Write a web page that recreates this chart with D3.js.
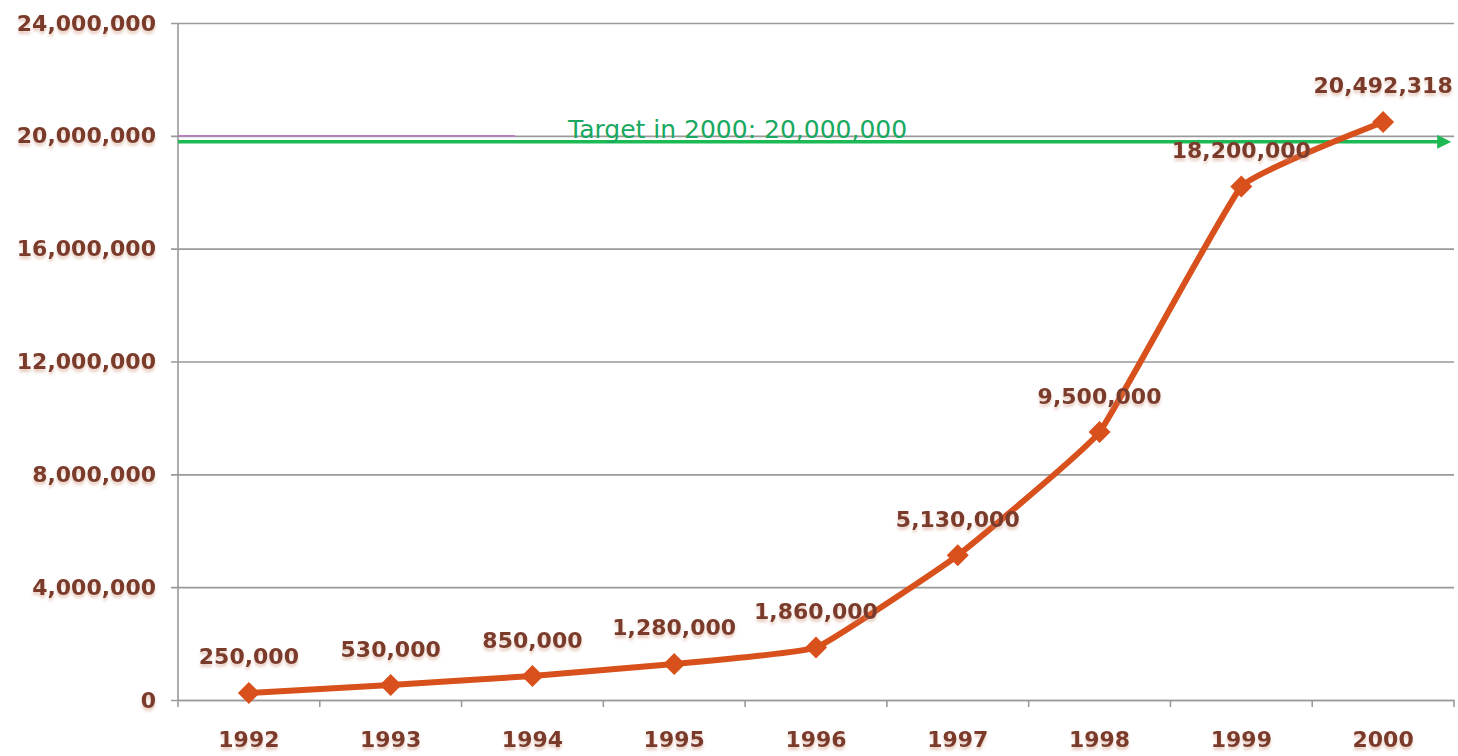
<!DOCTYPE html>
<html>
<head>
<meta charset="utf-8">
<script src="https://cdn.jsdelivr.net/npm/d3@7"></script>
<style>
  body { margin: 0; background: #fff; }
  svg { display: block; }
  text { font-family: "DejaVu Sans", sans-serif; }
</style>
</head>
<body>
<div id="chart"></div>
<script>
const years = ["1992", "1993", "1994", "1995", "1996", "1997", "1998", "1999", "2000"];
const users = [250000, 530000, 850000, 1280000, 1860000, 5130000, 9500000, 18200000, 20492318];
const yTicks = [0, 4000000, 8000000, 12000000, 16000000, 20000000, 24000000];
const target = 20000000;
const targetLabel = "Target in 2000: 20,000,000";

const width = 1458, height = 756;
const margin = {top: 23, right: 4, bottom: 56, left: 178};
const brown = "#7a3a2c";
const orange = "#d8501c";
const green = "#1db954";

const svg = d3.select("#chart").append("svg")
    .attr("width", width)
    .attr("height", height);

// soft reflection under the labels
const defs = svg.append("defs");
const f = defs.append("filter").attr("id", "shadow")
    .attr("x", "-10%").attr("y", "-20%").attr("width", "120%").attr("height", "160%");
f.append("feDropShadow")
    .attr("dx", 0).attr("dy", 3).attr("stdDeviation", 1.5)
    .attr("flood-color", "#c98a70").attr("flood-opacity", 0.45);

defs.append("marker")
    .attr("id", "arrow")
    .attr("viewBox", "0 0 10 10")
    .attr("refX", 2).attr("refY", 5)
    .attr("markerWidth", 4).attr("markerHeight", 4)
    .attr("orient", "auto")
  .append("path")
    .attr("d", "M0,0 L10,5 L0,10 z")
    .attr("fill", green);

const x = d3.scaleBand()
    .domain(years)
    .range([margin.left, width - margin.right]);

const y = d3.scaleLinear()
    .domain([0, 24000000])
    .range([height - margin.bottom, margin.top]);

const fmt = d3.format(",");

// y grid + labels
const yAxis = svg.append("g")
    .attr("transform", `translate(${margin.left},0)`)
    .call(d3.axisLeft(y)
        .tickValues(yTicks)
        .tickSize(-(width - margin.right - margin.left))
        .tickSizeOuter(0)
        .tickPadding(22)
        .tickFormat(fmt));
yAxis.select(".domain").remove();
yAxis.selectAll(".tick line")
    .attr("x1", -7)
    .attr("stroke", "#9a9a9a")
    .attr("stroke-width", 1.6);
yAxis.selectAll(".tick text")
    .attr("font-size", 22)
    .attr("font-weight", "bold")
    .attr("fill", brown)
    .attr("filter", "url(#shadow)");

// left axis line
svg.append("line")
    .attr("x1", margin.left).attr("x2", margin.left)
    .attr("y1", y(24000000)).attr("y2", y(0))
    .attr("stroke", "#9a9a9a").attr("stroke-width", 1.6);

// x axis
const xAxis = svg.append("g")
    .attr("transform", `translate(0,${y(0)})`)
    .call(d3.axisBottom(x).tickSize(0).tickPadding(31));
xAxis.select(".domain")
    .attr("stroke", "#9a9a9a").attr("stroke-width", 1.6);
xAxis.selectAll(".tick text")
    .attr("font-size", 22)
    .attr("font-weight", "bold")
    .attr("fill", brown)
    .attr("filter", "url(#shadow)");
// boundary ticks between categories
const edges = years.map(d => x(d)).concat([x(years[years.length - 1]) + x.bandwidth()]);
svg.append("g").selectAll("line")
    .data(edges)
    .join("line")
    .attr("x1", d => d).attr("x2", d => d)
    .attr("y1", y(0)).attr("y2", y(0) + 7)
    .attr("stroke", "#9a9a9a").attr("stroke-width", 1.6);

// target line: thin purple stub on the gridline + green arrow
svg.append("line")
    .attr("x1", margin.left).attr("x2", 515)
    .attr("y1", y(target)).attr("y2", y(target))
    .attr("stroke", "#b77cc0").attr("stroke-width", 1.6);
svg.append("line")
    .attr("x1", margin.left).attr("x2", width - margin.right - 14)
    .attr("y1", y(target) + 6).attr("y2", y(target) + 6)
    .attr("stroke", green).attr("stroke-width", 3.5)
    .attr("marker-end", "url(#arrow)");
svg.append("text")
    .attr("x", 568)
    .attr("y", y(target) + 2)
    .attr("font-family", "Roboto, sans-serif")
    .attr("font-size", 25)
    .attr("font-weight", 500)
    .attr("fill", "#1aa860")
    .text(targetLabel);

// series line, lightly smoothed
const cx = d => x(d) + x.bandwidth() / 2;
const pts = years.map((d, i) => [cx(d), y(users[i])]);

svg.append("path")
    .datum(pts)
    .attr("fill", "none")
    .attr("stroke", orange)
    .attr("stroke-width", 6)
    .attr("stroke-linejoin", "round")
    .attr("d", d3.line().curve(d3.curveCardinal.tension(0.7)));

svg.append("g").selectAll("path")
    .data(pts)
    .join("path")
    .attr("transform", d => `translate(${d[0]},${d[1]})`)
    .attr("d", "M0,-11 L11,0 L0,11 L-11,0 Z")
    .attr("fill", orange);

// data labels
svg.append("g").selectAll("text")
    .data(years)
    .join("text")
    .attr("x", d => cx(d))
    .attr("y", (d, i) => y(users[i]) - 36)
    .attr("text-anchor", "middle")
    .attr("dominant-baseline", "central")
    .attr("font-size", 22)
    .attr("fill", brown)
    .attr("font-weight", "bold")
    .attr("filter", "url(#shadow)")
    .text((d, i) => fmt(users[i]));
</script>
</body>
</html>
